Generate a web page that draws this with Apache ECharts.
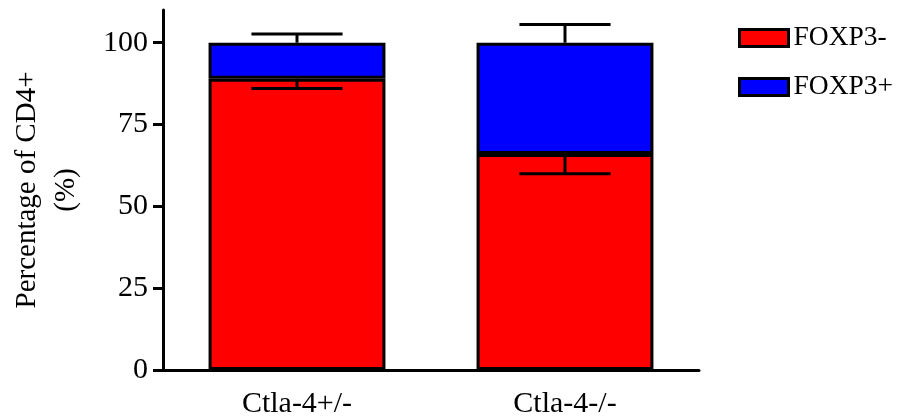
<!DOCTYPE html>
<html>
<head>
<meta charset="utf-8">
<script src="https://cdn.jsdelivr.net/npm/echarts@6/dist/echarts.min.js"></script>
<style>
  html, body { margin: 0; padding: 0; background: #fff; }
  #chart { width: 913px; height: 419px; }
</style>
</head>
<body>
<div id="chart"></div>
<script>
// Genotype groups on the x axis
var categories = ['Ctla-4+/-', 'Ctla-4-/-'];
// Mean percentage of CD4+ cells in each subset
var foxp3Neg = [89, 66];
var foxp3Pos = [11, 34];
// Error (SEM) for each subset
var foxp3NegErr = [3, 6];
var foxp3PosErr = [2.7, 5.6];
// Y axis tick values
var yTicks = [0, 25, 50, 75, 100];

var FONT = "'Liberation Serif', 'Times New Roman', serif";

// Error bar records: [category index, start value, end value]
var errNeg = categories.map(function (c, i) {
  return [i, foxp3Neg[i], foxp3Neg[i] - foxp3NegErr[i]];
});
var errPos = categories.map(function (c, i) {
  var top = foxp3Neg[i] + foxp3Pos[i];
  return [i, top, top + foxp3PosErr[i]];
});

function renderErr(params, api) {
  var i = api.value(0);
  var p0 = api.coord([i, api.value(1)]);
  var p1 = api.coord([i, api.value(2)]);
  var half = api.size([1, 0])[0] * 0.17;
  var style = { stroke: '#000', lineWidth: 3, fill: null };
  return {
    type: 'group',
    children: [
      { type: 'line', shape: { x1: p0[0], y1: p0[1], x2: p1[0], y2: p1[1] }, style: style },
      { type: 'line', shape: { x1: p1[0] - half, y1: p1[1], x2: p1[0] + half, y2: p1[1] }, style: style }
    ]
  };
}

var chart = echarts.init(document.getElementById('chart'), null, { renderer: 'canvas' });
chart.setOption({
  animation: false,
  backgroundColor: '#fff',
  textStyle: { fontFamily: FONT, color: '#000' },
  grid: { left: 157, right: 214, top: 10, bottom: 48, containLabel: false },
  legend: {
    orient: 'vertical',
    left: 738,
    top: 24,
    padding: 0,
    itemWidth: 49,
    itemHeight: 17,
    itemGap: 21,
    itemTextGap: 10,
    icon: 'rect',
    itemStyle: { borderColor: '#000', borderWidth: 3 },
    textStyle: { fontFamily: FONT, fontSize: 27.5, color: '#000', lineHeight: 20 },
    data: ['FOXP3-', 'FOXP3+']
  },
  xAxis: {
    type: 'category',
    data: categories,
    axisLine: { lineStyle: { color: '#000', width: 3 } },
    axisTick: { alignWithLabel: true, length: 10, lineStyle: { color: '#000', width: 3 } },
    axisLabel: { fontFamily: FONT, fontSize: 30, color: '#000', margin: 19 }
  },
  yAxis: {
    type: 'value',
    min: 0,
    max: 110,
    interval: 25,
    name: 'Percentage of CD4+\n(%)',
    nameLocation: 'middle',
    nameRotate: 90,
    nameGap: 77,
    nameTextStyle: { fontFamily: FONT, fontSize: 29, color: '#000', lineHeight: 39 },
    axisLine: { show: true, lineStyle: { color: '#000', width: 3 } },
    axisTick: { show: true, length: 10, customValues: yTicks, lineStyle: { color: '#000', width: 3 } },
    axisLabel: { fontFamily: FONT, fontSize: 30, color: '#000', margin: 15, customValues: yTicks },
    splitLine: { show: false }
  },
  series: [
    {
      name: 'FOXP3-',
      type: 'bar',
      stack: 'total',
      barWidth: '66%',
      data: foxp3Neg,
      itemStyle: { color: '#ff0000', borderColor: '#000', borderWidth: 3 }
    },
    {
      name: 'FOXP3+',
      type: 'bar',
      stack: 'total',
      barWidth: '66%',
      data: foxp3Pos,
      itemStyle: { color: '#0000ff', borderColor: '#000', borderWidth: 3 }
    },
    {
      type: 'custom',
      renderItem: renderErr,
      data: errNeg,
      z: 10,
      silent: true
    },
    {
      type: 'custom',
      renderItem: renderErr,
      data: errPos,
      z: 10,
      silent: true
    }
  ]
});
</script>
</body>
</html>
